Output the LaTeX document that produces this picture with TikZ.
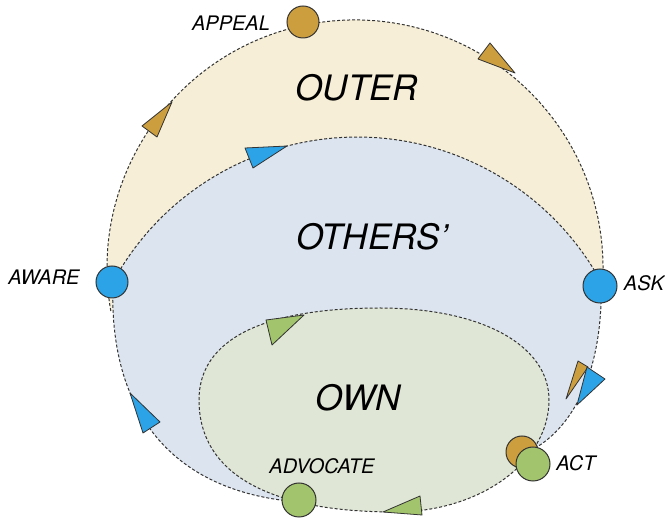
\documentclass[tikz,border=0pt]{standalone}
\usepackage{fontspec}
\setmainfont{TeX Gyre Heros}
\definecolor{ochre}{HTML}{CC9E3E}
\definecolor{skyb}{HTML}{2BA3E6}
\definecolor{leaf}{HTML}{A2C46C}
\definecolor{creamfill}{HTML}{F6EED6}
\definecolor{bluefill}{HTML}{DCE4EF}
\definecolor{greenfill}{HTML}{DFE6D5}
\definecolor{ink}{HTML}{333333}
\tikzset{
  loopline/.style={draw=ink, line width=1pt, dash pattern=on 3pt off 2pt},
  dot/.style={circle, draw=ink, line width=1pt, minimum size=32pt, inner sep=0pt},
  tri/.style={draw=ink, line width=0.8pt, line join=round},
  lbl/.style={font=\fontsize{20}{20}\selectfont\itshape, text=black, inner sep=0pt},
  big/.style={font=\fontsize{35}{35}\selectfont\itshape, text=black, inner sep=0pt},
}
\begin{document}
\begin{tikzpicture}[x=1pt,y=-1pt]
\useasboundingbox (0,0) rectangle (665,518);
% fills
\fill[creamfill] (110.8,311) arc[start angle=170, end angle=363.2, radius=248] -- cycle;
\fill[bluefill] (113,282) arc[start angle=208.6, end angle=331.4, radius=278]
  .. controls (603,360) and (580,420) .. (537,447) -- (299,502)
  .. controls (170,492) and (108,410) .. (113,282) -- cycle;
\path[fill=greenfill, loopline] (199,400) .. controls (199,340) and (262,308) .. (380,308)
  .. controls (481,308) and (549,345) .. (549,400)
  .. controls (549,462) and (480,512) .. (395,512)
  .. controls (268,512) and (199,473) .. (199,400) -- cycle;
% loop lines
\draw[loopline] (110.8,311) arc[start angle=170, end angle=363.2, radius=248];
\draw[loopline] (113,282) arc[start angle=208.6, end angle=331.4, radius=278]
  .. controls (603,360) and (580,420) .. (537,447);
\draw[loopline] (299,502) .. controls (170,492) and (108,410) .. (113,282);
% arrowheads
\filldraw[tri, fill=ochre] (172,102) -- (142,126) -- (157,137) -- cycle;
\filldraw[tri, fill=ochre] (490,43) -- (478,59) -- (515,73) -- cycle;
\filldraw[tri, fill=skyb] (245,148) -- (253,168) -- (287,146) -- cycle;
\filldraw[tri, fill=leaf] (266,320) -- (272,345) -- (304,315) -- cycle;
\filldraw[tri, fill=ochre] (578,361) -- (566,399) -- (588,367) -- cycle;
\filldraw[tri, fill=skyb] (587,367) -- (605,379) -- (577,405) -- cycle;
\filldraw[tri, fill=skyb] (130,393) -- (143,433) -- (160,422) -- cycle;
\filldraw[tri, fill=leaf] (383,512) -- (420,496) -- (422,515) -- cycle;
% stage dots
\node[dot, fill=ochre] (appeal) at (303,22) {};
\node[dot, fill=skyb] (aware) at (112,282) {};
\node[dot, fill=skyb, minimum size=34pt] (ask) at (600,286) {};
\node[dot, fill=ochre] (actback) at (522,452) {};
\node[dot, fill=leaf, minimum size=34pt] (act) at (533,464) {};
\node[dot, fill=leaf, minimum size=34pt] (advocate) at (299,500) {};
% labels
\node[lbl] (tappeal) at (231,23) {APPEAL};
\node[lbl] (taware) at (44,277) {AWARE};
\node[lbl] (task) at (644,283) {ASK};
\node[lbl] (tact) at (576,463) {ACT};
\node[lbl] (tadvocate) at (322,466) {ADVOCATE};
\node[big] (outer) at (357,88) {OUTER};
\node[big] (others) at (372,237) {OTHERS’};
\node[big] (own) at (358,398) {OWN};
\end{tikzpicture}
\end{document}
